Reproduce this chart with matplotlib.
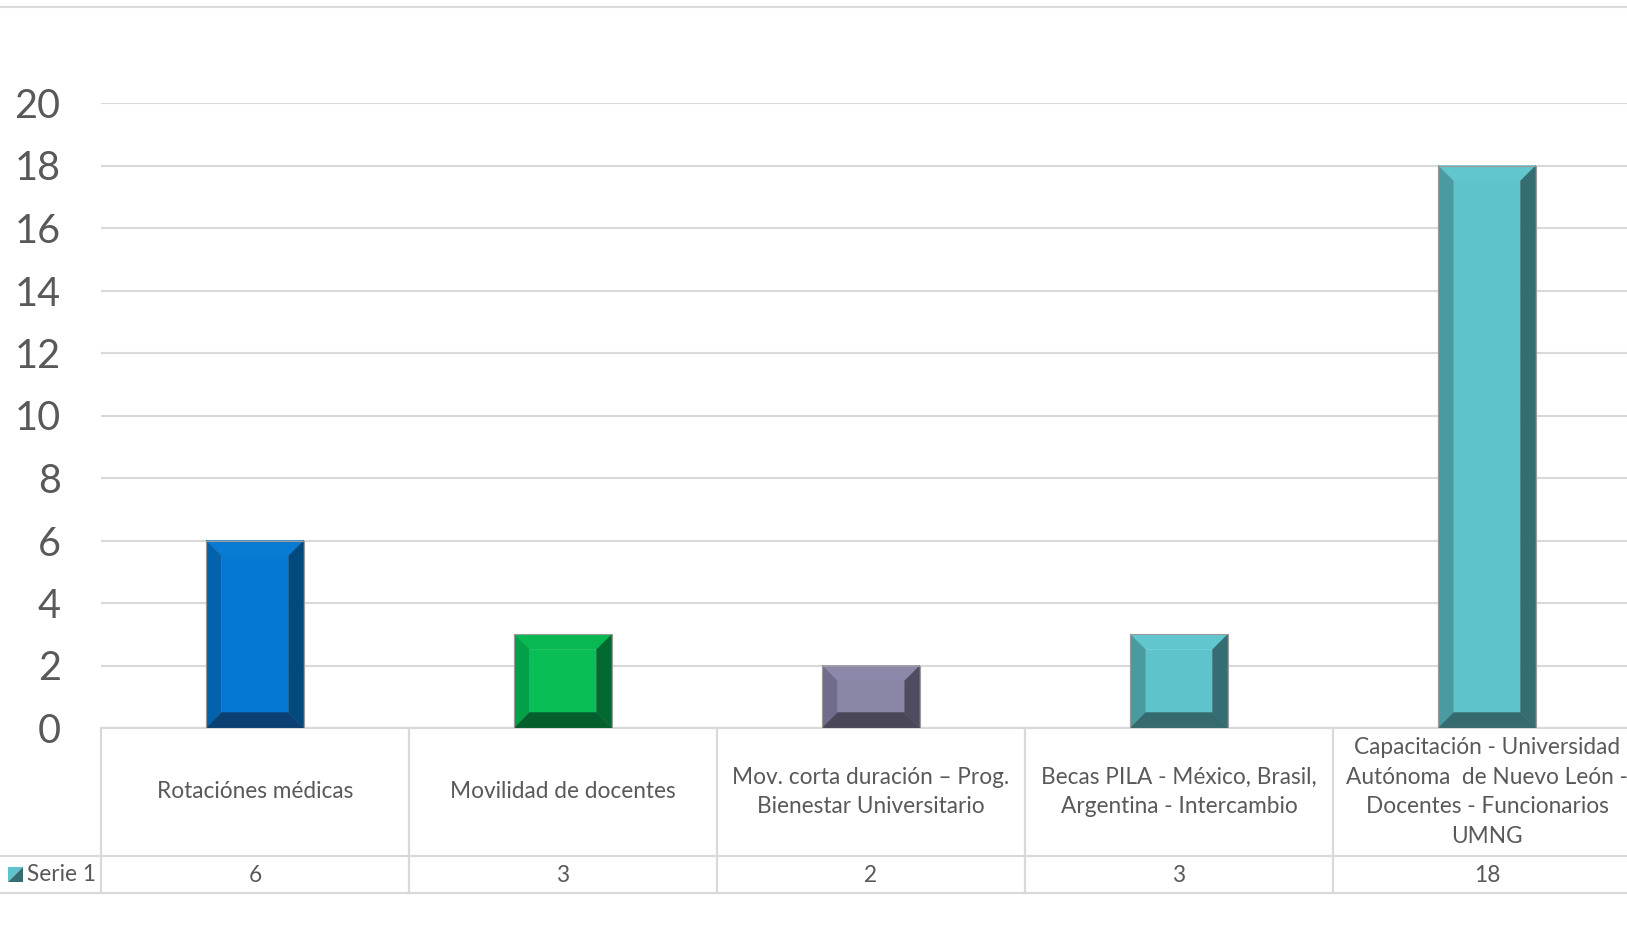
import matplotlib
matplotlib.use("Agg")
import matplotlib.pyplot as plt
from matplotlib.patches import Polygon, Rectangle
from matplotlib.lines import Line2D
from matplotlib.transforms import blended_transform_factory

# ---------------- data ----------------
categories = [
    "Rotaciónes médicas",
    "Movilidad de docentes",
    "Mov. corta duración – Prog.\nBienestar Universitario",
    "Becas PILA - México, Brasil,\nArgentina - Intercambio",
    "Capacitación - Universidad\nAutónoma  de Nuevo León -\nDocentes - Funcionarios\nUMNG",
]
serie1 = [6, 3, 2, 3, 18]
series_name = "Serie 1"
y_ticks = [0, 2, 4, 6, 8, 10, 12, 14, 16, 18, 20]

# ---------------- style ----------------
# face, top, left, right, bottom shades
palettes = [
    ("#0478D2", "#0A7BD2", "#0262AC", "#024A7E", "#0B4172"),
    ("#08BE55", "#07B853", "#03A047", "#026A30", "#045E2D"),
    ("#8A86A6", "#8C88A9", "#706C8B", "#4F4C62", "#4A4759"),
    ("#5FC3CB", "#62C6CE", "#4A9BA1", "#346D72", "#356A6E"),
    ("#5FC3CB", "#62C6CE", "#4A9BA1", "#346D72", "#356A6E"),
]
W, H = 1627, 925
TXT = "#595959"
GRID = "#D9D9D9"
plt.rcParams["font.family"] = ["Lato", "DejaVu Sans"]

fig = plt.figure(figsize=(W / 100, H / 100), dpi=100)

# pixel overlay axes
ov = fig.add_axes([0, 0, 1, 1], zorder=0)
ov.set_xlim(0, W)
ov.set_ylim(H, 0)
ov.axis("off")

# plot area
left_px, bottom_px, top_px = 101, 728, 103
cat_w_px = 308.0
ax_w_px = cat_w_px * len(categories)
ax_h_px = bottom_px - top_px
ax = fig.add_axes([left_px / W, 1 - bottom_px / H, ax_w_px / W, ax_h_px / H], zorder=1)
ax.patch.set_alpha(0)
n = len(categories)
ax.set_xlim(-0.5, n - 0.5)
ax.set_ylim(y_ticks[0], y_ticks[-1])
ax.set_yticks(y_ticks)
ax.set_yticklabels([str(t) for t in y_ticks])
ax.set_xticks([])
ax.yaxis.grid(True, color=GRID, lw=1.5)
ax.set_axisbelow(True)
for s in ax.spines.values():
    s.set_visible(False)
ax.tick_params(axis="y", length=0, pad=29, labelsize=28.5, labelcolor=TXT)

# bevelled bars
bar_w = 0.317
px_x = ax_w_px / (n)          # pixels per x unit
px_y = ax_h_px / (y_ticks[-1] - y_ticks[0])
bev = 15.5
dx, dy = bev / px_x, bev / px_y
for i, (v, pal) in enumerate(zip(serie1, palettes)):
    x0, x1 = i - bar_w / 2, i + bar_w / 2
    face, top, lft, rgt, bot = pal
    polys = [
        ([(x0 + dx, dy), (x1 - dx, dy), (x1 - dx, v - dy), (x0 + dx, v - dy)], face),
        ([(x0, v), (x1, v), (x1 - dx, v - dy), (x0 + dx, v - dy)], top),
        ([(x0, 0), (x0, v), (x0 + dx, v - dy), (x0 + dx, dy)], lft),
        ([(x1, 0), (x1, v), (x1 - dx, v - dy), (x1 - dx, dy)], rgt),
        ([(x0, 0), (x1, 0), (x1 - dx, dy), (x0 + dx, dy)], bot),
    ]
    for pts, c in polys:
        ax.add_patch(Polygon(pts, closed=True, facecolor=c, edgecolor=c, lw=0.3, zorder=3))
    ax.add_patch(Rectangle((x0, 0), bar_w, v, facecolor="none", edgecolor="#9A9A9A",
                           lw=0.8, zorder=4))

# top chart border line
ov.add_line(Line2D([0, W], [7, 7], color=GRID, lw=1.5))

# data table
tr = blended_transform_factory(ax.transData, ov.transData)
row1_top, row1_bot, row2_bot = 728, 856, 893
ov.add_line(Line2D([0, W], [row1_bot, row1_bot], color=GRID, lw=1.6))
ov.add_line(Line2D([0, W], [row2_bot, row2_bot], color=GRID, lw=1.6))
for b in [i - 0.5 for i in range(n + 1)]:
    ax.add_line(Line2D([b, b], [row1_top, row2_bot], color=GRID, lw=1.6,
                       transform=tr, clip_on=False))
ax.add_line(Line2D([-0.5, n - 0.5], [row1_top, row1_top], color=GRID, lw=1.6,
                   transform=tr, clip_on=False))

for i, (cat, v) in enumerate(zip(categories, serie1)):
    ax.text(i, (row1_top + row1_bot) / 2, cat, transform=tr, ha="center", va="center",
            fontsize=16.3, color=TXT, linespacing=1.52, clip_on=False)
    ax.text(i, (row1_bot + row2_bot) / 2 + 1, str(v), transform=tr, ha="center",
            va="center", fontsize=16.3, color=TXT, clip_on=False)

# legend key in table
ov.add_patch(Polygon([(8, 867), (23, 867), (8, 882)], closed=True, facecolor="#5FC3CB",
                     edgecolor="none"))
ov.add_patch(Polygon([(23, 867), (23, 882), (8, 882)], closed=True, facecolor="#346D72",
                     edgecolor="none"))
ov.text(27, 874.5, series_name, ha="left", va="center", fontsize=16.3, color=TXT)

fig.savefig("out.png", dpi=100)
